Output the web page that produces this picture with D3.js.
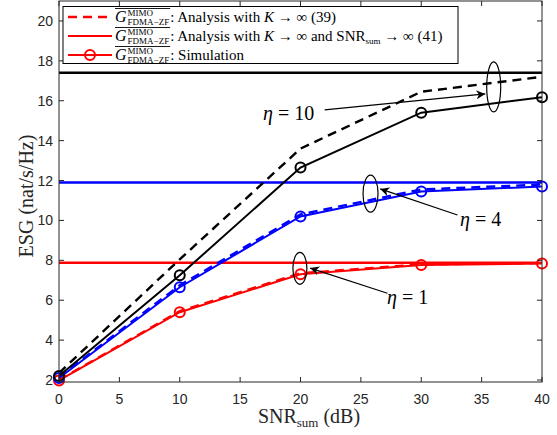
<!DOCTYPE html>
<html><head><meta charset="utf-8">
<script src="https://cdn.jsdelivr.net/npm/d3@7"></script>
<style>body{margin:0;background:#fff}</style>
</head><body>
<svg id="c" width="557" height="435"></svg>
<script>
const snr = [0, 10, 20, 30, 40];
const xTicks = [0, 5, 10, 15, 20, 25, 30, 35, 40];
const yTicks = [2, 4, 6, 8, 10, 12, 14, 16, 18, 20];
const etas = ["10", "4", "1"];
const colors = ["#000000", "#0000ff", "#ff0000"];
const asym = [17.4, 11.9, 7.88];
const analysis10 = [2.35, 8.05, 13.6, 16.45, 17.2];
const sim10 = [2.2, 7.25, 12.65, 15.4, 16.18];
const analysis4 = [2.15, 6.75, 10.3, 11.55, 11.8];
const sim4 = [2.1, 6.65, 10.2, 11.45, 11.7];
const analysis1 = [2.0, 5.45, 7.35, 7.8, 7.86];
const sim1 = [1.98, 5.4, 7.3, 7.76, 7.84];
const legendTexts = ["Analysis with K \u2192 \u221e (39)", "Analysis with K \u2192 \u221e and SNR", "Simulation"];

const svg = d3.select("#c");
const L = 59, R = 542, T = 1, B = 382;
const x = d3.scaleLinear().domain([0, 40]).range([L, R]);
const y = d3.scaleLinear().domain([1.9, 21]).range([B, T]);
const axisCol = "#262626";
const serif = "'Liberation Serif','DejaVu Serif',serif";
const sans = "'Liberation Sans',Arial,sans-serif";

const analyses = [analysis10, analysis4, analysis1];
const sims = [sim10, sim4, sim1];

const g = svg.append("g");
asym.forEach((v, i) => {
  g.append("line").attr("x1", x(0)).attr("x2", x(40)).attr("y1", y(v)).attr("y2", y(v))
    .attr("stroke", colors[i]).attr("stroke-width", 2.6);
});
const line = d3.line().x((d, i) => x(snr[i])).y(d => y(d));
[2, 1, 0].forEach(i => {
  g.append("path").attr("d", line(analyses[i])).attr("fill", "none")
    .attr("stroke", colors[i]).attr("stroke-width", 2.4).attr("stroke-dasharray", "9,6");
});
[2, 1, 0].forEach(i => {
  g.append("path").attr("d", line(sims[i])).attr("fill", "none")
    .attr("stroke", colors[i]).attr("stroke-width", 2);
  g.selectAll(null).data(sims[i]).enter().append("circle")
    .attr("cx", (d, j) => x(snr[j])).attr("cy", d => y(d)).attr("r", 5)
    .attr("fill", "none").attr("stroke", colors[i]).attr("stroke-width", 2);
});

const ax = svg.append("g");
ax.append("rect").attr("x", L).attr("y", T).attr("width", R - L).attr("height", B - T)
  .attr("fill", "none").attr("stroke", axisCol).attr("stroke-width", 1);
xTicks.forEach(t => {
  ax.append("line").attr("x1", x(t)).attr("x2", x(t)).attr("y1", B).attr("y2", B - 5).attr("stroke", axisCol);
  ax.append("line").attr("x1", x(t)).attr("x2", x(t)).attr("y1", T).attr("y2", T + 5).attr("stroke", axisCol);
  ax.append("text").attr("x", x(t)).attr("y", B + 22).attr("text-anchor", "middle")
    .attr("font-family", sans).attr("font-size", 14).attr("fill", axisCol).text(t);
});
yTicks.forEach(t => {
  ax.append("line").attr("x1", L).attr("x2", L + 5).attr("y1", y(t)).attr("y2", y(t)).attr("stroke", axisCol);
  ax.append("line").attr("x1", R).attr("x2", R - 5).attr("y1", y(t)).attr("y2", y(t)).attr("stroke", axisCol);
  ax.append("text").attr("x", L - 6).attr("y", y(t) + 5).attr("text-anchor", "end")
    .attr("font-family", sans).attr("font-size", 14).attr("fill", axisCol).text(t);
});
const xl = ax.append("text").attr("x", 309).attr("y", 423).attr("text-anchor", "middle")
  .attr("font-family", serif).attr("font-size", 20).attr("fill", axisCol);
xl.append("tspan").text("SNR");
xl.append("tspan").attr("font-size", 13).attr("dy", 4).text("sum");
xl.append("tspan").attr("dy", -4).text("  (dB)");
ax.append("text").attr("transform", "translate(33,196) rotate(-90)").attr("text-anchor", "middle")
  .attr("font-family", serif).attr("font-size", 20).attr("fill", axisCol).text("ESG (nat/s/Hz)");

const ann = svg.append("g");
svg.append("defs").append("marker").attr("id", "ah").attr("viewBox", "0 0 10 10")
  .attr("refX", 10).attr("refY", 5).attr("markerWidth", 13).attr("markerHeight", 9)
  .attr("markerUnits", "userSpaceOnUse").attr("orient", "auto")
  .append("path").attr("d", "M0,0 L10,5 L0,10 L3,5 Z").attr("fill", "#000");
const annos = [
  {eta: etas[0], ex: 36, ey: 16.69, rx: 7, ry: 25, tip: [35.3, 16.34], from: [22.0, 15.54], tx: 263, ty: 120},
  {eta: etas[1], ex: 25.8, ey: 11.34, rx: 7.5, ry: 18.5, tip: [26.6, 11.58], from: [33.0, 10.27], tx: 460, ty: 226},
  {eta: etas[2], ex: 19.95, ey: 7.6, rx: 7, ry: 16, tip: [20.8, 7.61], from: [27.2, 6.35], tx: 387, ty: 304}
];
annos.forEach(a => {
  ann.append("ellipse").attr("cx", x(a.ex)).attr("cy", y(a.ey)).attr("rx", a.rx).attr("ry", a.ry)
    .attr("fill", "none").attr("stroke", "#000").attr("stroke-width", 1.2);
  ann.append("line").attr("x1", x(a.from[0])).attr("y1", y(a.from[1]))
    .attr("x2", x(a.tip[0])).attr("y2", y(a.tip[1]))
    .attr("stroke", "#000").attr("stroke-width", 1.2).attr("marker-end", "url(#ah)");
  const t = ann.append("text").attr("x", a.tx).attr("y", a.ty).attr("font-family", serif)
    .attr("font-size", 20).attr("fill", "#000");
  t.append("tspan").attr("font-style", "italic").text("\u03b7");
  t.append("tspan").text(" = " + a.eta);
});

const lg = svg.append("g");
lg.append("rect").attr("x", 63).attr("y", 6.5).attr("width", 395).attr("height", 57)
  .attr("fill", "#fff").attr("stroke", "#000").attr("stroke-width", 1);
const rowsY = [22, 41, 60];
rowsY.forEach((ry, i) => {
  const ly = ry - 5;
  lg.append("line").attr("x1", 68).attr("x2", 112).attr("y1", ly).attr("y2", ly)
    .attr("stroke", "#ff0000").attr("stroke-width", i === 0 ? 2.4 : 2)
    .attr("stroke-dasharray", i === 0 ? "9,6" : null);
  if (i === 2) lg.append("circle").attr("cx", 90).attr("cy", ly).attr("r", 5)
    .attr("fill", "none").attr("stroke", "#ff0000").attr("stroke-width", 2);
  const gx = 115;
  const G = lg.append("text").attr("x", gx).attr("y", ry).attr("font-family", serif)
    .attr("font-size", 16).attr("font-style", "italic").text("G");
  const gw = G.node().getComputedTextLength();
  const sup = lg.append("text").attr("x", gx + gw + 1).attr("y", ry - 6).attr("font-family", serif)
    .attr("font-size", 9).text("MIMO");
  const sub = lg.append("text").attr("x", gx + gw + 1).attr("y", ry + 3).attr("font-family", serif)
    .attr("font-size", 9).text("FDMA\u2212ZF");
  const w = Math.max(sup.node().getComputedTextLength(), sub.node().getComputedTextLength());
  const endX = gx + gw + 1 + w;
  lg.append("line").attr("x1", gx).attr("x2", endX + 1).attr("y1", ry - 13.5).attr("y2", ry - 13.5)
    .attr("stroke", "#000").attr("stroke-width", 0.9);
  const tt = lg.append("text").attr("x", endX + 1).attr("y", ry).attr("font-family", serif)
    .attr("font-size", 15);
  tt.append("tspan").text(":  ");
  if (i < 2) {
    tt.append("tspan").text("Analysis with ");
    tt.append("tspan").attr("font-style", "italic").text("K");
    tt.append("tspan").text(" \u2192 \u221e ");
    if (i === 0) tt.append("tspan").text("(39)");
    else {
      tt.append("tspan").text("and SNR");
      tt.append("tspan").attr("font-size", 9).attr("dy", 3).text("sum");
      tt.append("tspan").attr("dy", -3).text(" \u2192 \u221e (41)");
    }
  } else {
    tt.append("tspan").text(legendTexts[2]);
  }
});
</script>
</body></html>
